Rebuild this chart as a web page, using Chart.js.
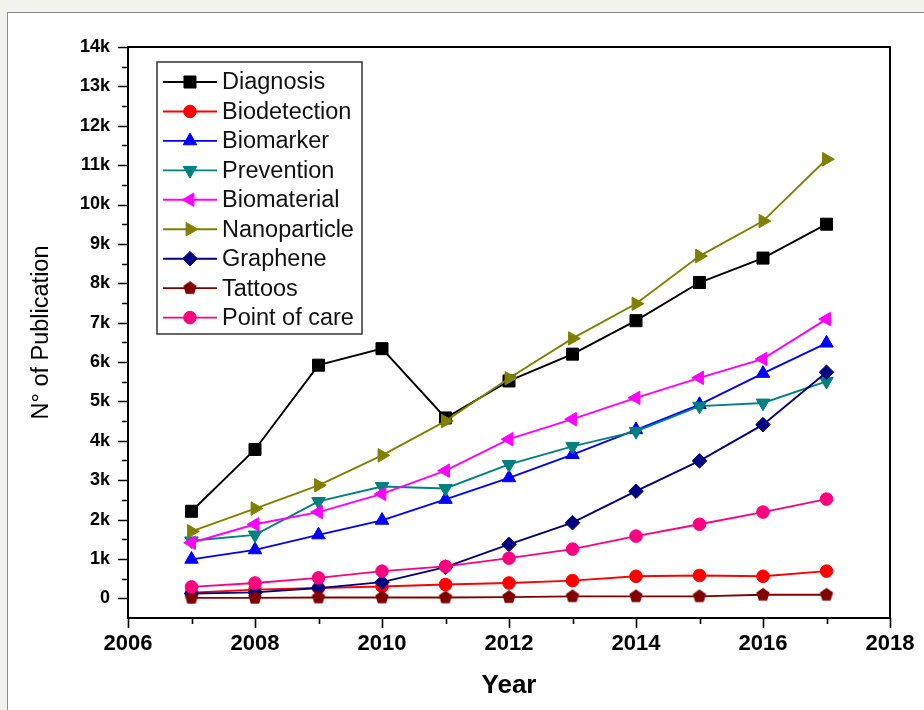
<!DOCTYPE html>
<html><head><meta charset="utf-8">
<script src="https://cdn.jsdelivr.net/npm/chart.js@4/dist/chart.umd.min.js"></script>
<style>
html,body{margin:0;padding:0;background:#f3f3ee;width:924px;height:710px;overflow:hidden}
#panel{position:absolute;left:7px;top:12px;width:940px;height:720px;background:#fff;border:1px solid #8c8c8c;box-sizing:border-box}
#c{position:absolute;left:0;top:0}
</style></head><body>
<div id="panel"></div>
<canvas id="c" width="924" height="710"></canvas>
<script>
// ---- data ----
const years = [2007, 2008, 2009, 2010, 2011, 2012, 2013, 2014, 2015, 2016, 2017];
const seriesNames = ["Diagnosis", "Biodetection", "Biomarker", "Prevention", "Biomaterial", "Nanoparticle", "Graphene", "Tattoos", "Point of care"];
const diagnosis    = [2210, 3780, 5920, 6340, 4580, 5520, 6200, 7050, 8020, 8640, 9500];
const biodetection = [140, 220, 260, 300, 350, 390, 450, 560, 580, 560, 690];
const biomarker    = [990, 1230, 1610, 1980, 2510, 3060, 3650, 4280, 4920, 5710, 6480];
const prevention   = [1460, 1610, 2460, 2840, 2790, 3400, 3860, 4240, 4880, 4960, 5510];
const biomaterial  = [1410, 1880, 2190, 2650, 3240, 4040, 4550, 5090, 5600, 6080, 7090];
const nanoparticle = [1700, 2280, 2870, 3630, 4500, 5590, 6600, 7480, 8690, 9580, 11150];
const graphene     = [120, 150, 260, 410, 790, 1370, 1920, 2720, 3490, 4410, 5740];
const tattoos      = [10, 10, 20, 20, 20, 30, 50, 50, 50, 90, 90];
const pointOfCare  = [290, 390, 520, 690, 810, 1020, 1250, 1580, 1880, 2190, 2520];
const seriesValues = [diagnosis, biodetection, biomarker, prevention, biomaterial, nanoparticle, graphene, tattoos, pointOfCare];
const xTickValues = [2006, 2008, 2010, 2012, 2014, 2016, 2018];
const yTickLabels = ["0","1k","2k","3k","4k","5k","6k","7k","8k","9k","10k","11k","12k","13k","14k"];

// ---- styles ----
const colors = ["#000000", "#ff0000", "#0000ff", "#008080", "#ff00ff", "#808000", "#000080", "#800000", "#ff0080"];
function pentagon(color, r) {
  const c = document.createElement('canvas');
  const s = Math.ceil(r * 2 + 2);
  c.width = s; c.height = s;
  const g = c.getContext('2d');
  g.fillStyle = color;
  g.beginPath();
  for (let i = 0; i < 5; i++) {
    const a = -Math.PI / 2 + i * 2 * Math.PI / 5;
    const px = s / 2 + r * Math.cos(a), py = s / 2 + r * Math.sin(a);
    if (i === 0) g.moveTo(px, py); else g.lineTo(px, py);
  }
  g.closePath(); g.fill();
  return c;
}
const pentImg = pentagon("#800000", 7);
const pStyles = ["rect", "circle", "triangle", "triangle", "triangle", "triangle", "rectRot", pentImg, "circle"];
const pRot    = [0, 0, 0, 180, -90, 90, 0, 0, 0];
const pRad    = [8.5, 6.3, 7.8, 7.8, 7.8, 7.8, 7.3, 7, 6.3];

const FONT = "'Liberation Sans', Arial, Helvetica, sans-serif";
const LW = 1.9;

const datasets = seriesNames.map((n, i) => ({
  label: n,
  data: years.map((y, j) => ({x: y, y: seriesValues[i][j]})),
  borderColor: colors[i],
  backgroundColor: colors[i],
  borderWidth: LW,
  pointStyle: pStyles[i],
  pointRotation: pRot[i],
  pointRadius: pRad[i],
  pointBorderWidth: 1,
  pointBackgroundColor: colors[i],
  pointBorderColor: colors[i],
  tension: 0,
  order: -i
}));

function drawMarker(ctx, i, x, y) {
  if (Chart.helpers && Chart.helpers.drawPoint) {
    ctx.save();
    ctx.fillStyle = colors[i]; ctx.strokeStyle = colors[i]; ctx.lineWidth = 1;
    Chart.helpers.drawPoint(ctx, {pointStyle: pStyles[i], radius: pRad[i], rotation: pRot[i], borderWidth: 1}, x, y);
    ctx.restore();
  } else if (typeof pStyles[i] !== 'string') {
    ctx.drawImage(pStyles[i], x - pStyles[i].width / 2, y - pStyles[i].height / 2);
  } else {
    ctx.save(); ctx.fillStyle = colors[i];
    ctx.beginPath(); ctx.arc(x, y, pRad[i], 0, Math.PI * 2); ctx.fill(); ctx.restore();
  }
}

const framePlugin = {
  id: 'frame',
  afterDatasetsDraw(chart) {
    const ctx = chart.ctx, ca = chart.chartArea;
    const xs = chart.scales.x, ys = chart.scales.y;
    ctx.save();
    ctx.strokeStyle = '#000'; ctx.lineWidth = 2;
    ctx.beginPath();
    ctx.moveTo(ca.left, ca.top); ctx.lineTo(ca.right, ca.top); ctx.lineTo(ca.right, ca.bottom);
    ctx.stroke();
    ctx.lineWidth = 1.6;
    ctx.beginPath();
    for (let v = 2006; v <= 2018; v++) {
      const px = Math.round(xs.getPixelForValue(v)) + 0.5;
      const len = v % 2 === 0 ? 10 : 6;
      ctx.moveTo(px, ca.bottom); ctx.lineTo(px, ca.bottom + len);
    }
    for (let v = 0; v <= 14000; v += 500) {
      const py = Math.round(ys.getPixelForValue(v)) + 0.5;
      const len = v % 1000 === 0 ? 10 : 6;
      ctx.moveTo(ca.left, py); ctx.lineTo(ca.left - len, py);
    }
    ctx.stroke();
    ctx.restore();
  },
  afterDraw(chart) {
    const ctx = chart.ctx;
    const L = {x: 157, y: 62, w: 205, h: 272, row0: 82, step: 29.45, l0: 163, l1: 217, mx: 190, tx: 222};
    ctx.save();
    ctx.fillStyle = '#fff';
    ctx.fillRect(L.x, L.y, L.w, L.h);
    ctx.strokeStyle = '#333'; ctx.lineWidth = 1.5;
    ctx.strokeRect(L.x, L.y, L.w, L.h);
    ctx.font = "23.5px " + FONT;
    ctx.textBaseline = 'middle';
    seriesNames.forEach((n, i) => {
      const y = L.row0 + i * L.step;
      ctx.strokeStyle = colors[i]; ctx.lineWidth = LW;
      ctx.beginPath(); ctx.moveTo(L.l0, y); ctx.lineTo(L.l1, y); ctx.stroke();
      drawMarker(ctx, i, L.mx, y);
      ctx.fillStyle = '#111';
      ctx.fillText(n, L.tx, y + 1);
    });
    ctx.restore();
  }
};

new Chart(document.getElementById('c'), {
  type: 'line',
  data: {datasets},
  options: {
    responsive: false,
    animation: false,
    layout: {padding: {left: 0, top: 47, right: 34, bottom: 0}},
    plugins: {legend: {display: false}, tooltip: {enabled: false}},
    scales: {
      x: {
        type: 'linear', position: 'bottom', min: 2006, max: 2018,
        afterBuildTicks: s => { s.ticks = xTickValues.map(v => ({value: v})); },
        afterFit: s => { s.height = 92; },
        ticks: {
          autoSkip: false, maxRotation: 0, padding: 3, color: '#000',
          font: {family: FONT, size: 22, weight: 'bold'},
          callback: v => String(v)
        },
        grid: {display: true, drawOnChartArea: false, drawTicks: true, tickLength: 10, tickColor: 'rgba(0,0,0,0)'},
        border: {display: true, color: '#000', width: 2},
        title: {display: true, text: 'Year', color: '#000', font: {family: FONT, size: 26, weight: 'bold'}, padding: {top: 0, bottom: 9}}
      },
      y: {
        type: 'linear', position: 'left', min: -500, max: 14000,
        afterBuildTicks: s => { s.ticks = yTickLabels.map((t, k) => ({value: k * 1000})); },
        afterFit: s => { s.width = 128; },
        ticks: {
          padding: 8, color: '#000',
          font: {family: FONT, size: 18, weight: 'bold'},
          callback: (v, k) => yTickLabels[k]
        },
        grid: {display: true, drawOnChartArea: false, drawTicks: true, tickLength: 10, tickColor: 'rgba(0,0,0,0)'},
        border: {display: true, color: '#000', width: 2},
        title: {display: true, text: 'N° of Publication', color: '#000', font: {family: FONT, size: 23.5}, padding: {top: 27, bottom: 0}}
      }
    }
  },
  plugins: [framePlugin]
});
</script>
</body></html>
